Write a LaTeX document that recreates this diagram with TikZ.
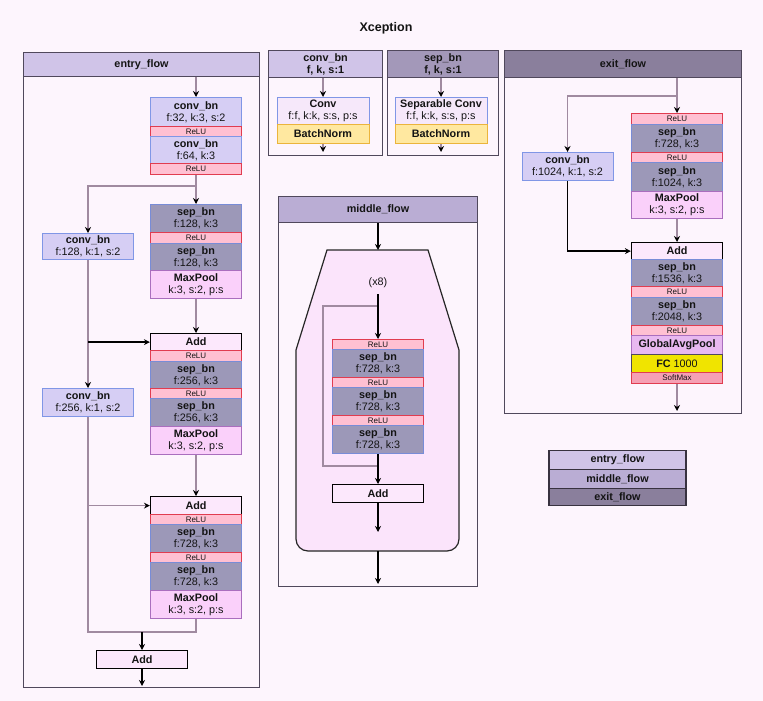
\documentclass[tikz,border=0pt]{standalone}
\usepackage{fontspec}
\setmainfont{Liberation Sans}
\usepackage{xcolor}
\usepackage{tikz}
\usetikzlibrary{arrows.meta}
\definecolor{bgc}{RGB}{253,245,253}
\definecolor{entryc}{RGB}{208,196,232}
\definecolor{middlec}{RGB}{186,173,212}
\definecolor{exitc}{RGB}{138,127,156}
\definecolor{sephdr}{RGB}{163,152,185}
\definecolor{framec}{RGB}{80,72,92}
\definecolor{convfill}{RGB}{214,206,244}
\definecolor{convdraw}{RGB}{128,150,230}
\definecolor{sepfill}{RGB}{156,152,184}
\definecolor{sepdraw}{RGB}{120,140,215}
\definecolor{relufill}{RGB}{255,192,210}
\definecolor{reludraw}{RGB}{225,60,80}
\definecolor{poolfill}{RGB}{250,208,250}
\definecolor{pooldraw}{RGB}{170,110,190}
\definecolor{addfill}{RGB}{252,232,252}
\definecolor{gapfill}{RGB}{232,184,240}
\definecolor{fcfill}{RGB}{240,228,0}
\definecolor{softfill}{RGB}{245,160,180}
\definecolor{cvfill}{RGB}{246,232,250}
\definecolor{bnfill}{RGB}{255,232,160}
\definecolor{bndraw}{RGB}{235,180,60}
\definecolor{octofill}{RGB}{251,228,251}
\definecolor{linec}{RGB}{160,138,160}
\colorlet{txtc}{black!92}
\newcommand\fs{\fontsize{10.8}{12}\selectfont}
\newcommand\lbl[2]{\textbf{#1}\\#2}
\tikzstyle{arrhead}=[>/.tip={Stealth[length=6pt,width=6pt,color=black]}]
\tikzstyle{ln}=[line width=1.3pt,draw=linec,arrhead,->]
\tikzstyle{lnk}=[ln,draw=black]
\tikzstyle{loopln}=[line width=1.3pt,draw=linec]
\tikzstyle{flowbox}=[draw=framec,line width=1pt,fill=bgc,anchor=north west,inner sep=0pt]
\tikzstyle{hdr}=[draw=framec,line width=1pt,anchor=north west,inner sep=1pt,align=center,font=\fs\bfseries,text=txtc]
\tikzstyle{blk}=[draw,line width=1pt,anchor=north,minimum width=91pt,inner sep=1pt,align=center,font=\fs,text=txtc]
\tikzstyle{convbn}=[blk,fill=convfill,draw=convdraw]
\tikzstyle{sepbn}=[blk,fill=sepfill,draw=sepdraw]
\tikzstyle{relu}=[blk,fill=relufill,draw=reludraw,minimum height=10pt,font=\fontsize{8}{8}\selectfont]
\tikzstyle{poolbox}=[blk,fill=poolfill,draw=pooldraw]
\tikzstyle{addbox}=[blk,fill=addfill,draw=black,line width=1.2pt,font=\fs\bfseries]
\tikzstyle{gapbox}=[blk,fill=gapfill,draw=pooldraw]
\tikzstyle{fcbox}=[blk,fill=fcfill,draw=framec]
\tikzstyle{softbox}=[relu,fill=softfill]
\tikzstyle{cvbox}=[blk,fill=cvfill,draw=convdraw,minimum width=92pt]
\tikzstyle{bnbox}=[blk,fill=bnfill,draw=bndraw,minimum width=92pt]
\tikzstyle{lgd}=[draw=framec!70!black,line width=1.2pt,anchor=north,minimum width=137pt,inner sep=1pt,font=\fs\bfseries,text=txtc]
\tikzstyle{octo}=[draw=black!85,line width=1.2pt,fill=octofill]

\begin{document}
\begin{tikzpicture}[x=1pt,y=-1pt]
	\fill[bgc] (0,0) rectangle (763,701);
	\useasboundingbox (0,0) rectangle (763,701);
	\node[font=\fontsize{12.5}{14}\selectfont\bfseries,text=txtc] (title) at (386,28) {Xception};

	% entry flow
	\node[flowbox,minimum width=236pt,minimum height=635pt] (ef) at (23,52) {};
	\node[hdr,fill=entryc,minimum width=236pt,minimum height=24pt] (eh) at (23,52) {entry\_flow};
	\node[convbn,minimum height=29pt] (e1) at (196,97) {\lbl{conv\_bn}{f:32, k:3, s:2}};
	\node[relu] (r1) at (196,126) {ReLU};
	\node[convbn,minimum height=27pt] (e2) at (196,136) {\lbl{conv\_bn}{f:64, k:3}};
	\node[relu,minimum height=11pt] (r2) at (196,163) {ReLU};
	\node[sepbn,minimum height=28pt] (e3) at (196,204) {\lbl{sep\_bn}{f:128, k:3}};
	\node[relu,minimum height=11pt] (r3) at (196,232) {ReLU};
	\node[sepbn,minimum height=27pt] (e4) at (196,243) {\lbl{sep\_bn}{f:128, k:3}};
	\node[poolbox,minimum height=28pt] (p1) at (196,270) {\lbl{MaxPool}{k:3, s:2, p:s}};
	\node[addbox,minimum height=17pt] (a1) at (196,333) {Add};
	\node[relu,minimum height=11pt] (r4) at (196,350) {ReLU};
	\node[sepbn,minimum height=27pt] (e5) at (196,361) {\lbl{sep\_bn}{f:256, k:3}};
	\node[relu] (r5) at (196,388) {ReLU};
	\node[sepbn,minimum height=28pt] (e6) at (196,398) {\lbl{sep\_bn}{f:256, k:3}};
	\node[poolbox,minimum height=28pt] (p2) at (196,426) {\lbl{MaxPool}{k:3, s:2, p:s}};
	\node[addbox,minimum height=18pt] (a2) at (196,496) {Add};
	\node[relu] (r6) at (196,514) {ReLU};
	\node[sepbn,minimum height=28pt] (e7) at (196,524) {\lbl{sep\_bn}{f:728, k:3}};
	\node[relu] (r7) at (196,552) {ReLU};
	\node[sepbn,minimum height=28pt] (e8) at (196,562) {\lbl{sep\_bn}{f:728, k:3}};
	\node[poolbox,minimum height=28pt] (p3) at (196,590) {\lbl{MaxPool}{k:3, s:2, p:s}};
	\node[addbox,minimum height=18pt] (a3) at (142,650) {Add};
	\node[convbn,minimum height=26pt] (c1) at (88,233) {\lbl{conv\_bn}{f:128, k:1, s:2}};
	\node[convbn,minimum height=28pt] (c2) at (88,388) {\lbl{conv\_bn}{f:256, k:1, s:2}};
	\coordinate (j1) at (196,186);
	\coordinate (j2) at (142,632);
	\coordinate (eo) at (142,686);
	\draw[ln] (e1.north |- eh.south) -- (e1);
	\draw[ln] (r2) -- (e3);
	\draw[ln] (j1) -| (c1);
	\draw[ln] (p1) -- (a1);
	\draw[ln] (c1) -- (c2);
	\draw[lnk] (c1.south |- a1) -- (a1);
	\draw[ln] (p2) -- (a2);
	\draw[ln] (c2.south |- a2) -- (a2);
	\draw[loopln] (c2) |- (j2) -| (p3);
	\draw[lnk] (j2) -- (a3);
	\draw[lnk] (a3) -- (eo);

	% conv_bn / sep_bn
	\node[flowbox,minimum width=114pt,minimum height=105pt] (cd) at (268,50) {};
	\node[hdr,fill=entryc,minimum width=114pt,minimum height=27pt] (ch) at (268,50) {conv\_bn\\f, k, s:1};
	\node[cvbox,minimum height=27pt] (cv) at (323,97) {\lbl{Conv}{f:f, k:k, s:s, p:s}};
	\node[bnbox,minimum height=19pt] (bn) at (323,124) {\textbf{BatchNorm}};
	\coordinate (co) at (323,152);
	\draw[ln] (cv |- ch.south) -- (cv);
	\draw[ln] (bn) -- (co);
	\node[flowbox,minimum width=111pt,minimum height=105pt] (sd) at (387,50) {};
	\node[hdr,fill=sephdr,minimum width=111pt,minimum height=27pt] (sh) at (387,50) {sep\_bn\\f, k, s:1};
	\node[cvbox,minimum height=27pt] (sv) at (441,97) {\lbl{Separable Conv}{f:f, k:k, s:s, p:s}};
	\node[bnbox,minimum height=19pt] (sn) at (441,124) {\textbf{BatchNorm}};
	\coordinate (so) at (441,152);
	\draw[ln] (sv |- sh.south) -- (sv);
	\draw[ln] (sn) -- (so);

	% middle flow
	\node[flowbox,minimum width=199pt,minimum height=390pt] (mf) at (278,196) {};
	\node[hdr,fill=middlec,minimum width=199pt,minimum height=26pt] (mh) at (278,196) {middle\_flow};
	\draw[octo] (327,250) -- (428,250) -- (459,350) -- (459,539) arc[start angle=0,end angle=90,radius=12]
		-- (308,551) arc[start angle=90,end angle=180,radius=12] -- (296,350) -- cycle;
	\coordinate (mt) at (378,250);
	\coordinate (mq) at (378,532);
	\coordinate (mb) at (378,551);
	\coordinate (mo) at (378,584);
	\node[font=\fs,text=txtc,inner sep=6pt] (rep) at (378,283) {(x8)};
	\node[relu] (m1) at (378,339) {ReLU};
	\node[sepbn,minimum height=28pt] (m2) at (378,349) {\lbl{sep\_bn}{f:728, k:3}};
	\node[relu] (m3) at (378,377) {ReLU};
	\node[sepbn,minimum height=28pt] (m4) at (378,387) {\lbl{sep\_bn}{f:728, k:3}};
	\node[relu] (m5) at (378,415) {ReLU};
	\node[sepbn,minimum height=28pt] (m6) at (378,425) {\lbl{sep\_bn}{f:728, k:3}};
	\node[addbox,minimum height=18pt] (ma) at (378,484) {Add};
	\coordinate (l1) at (378,306);
	\coordinate (l2) at (378,466);
	\draw[lnk] (mh.south -| mt) -- (mt);
	\draw[loopln] (l1) -- ++(-55,0) |- (l2);
	\draw[lnk] (rep) -- (m1);
	\draw[lnk] (m6) -- (ma);
	\draw[lnk] (ma) -- (mq);
	\draw[lnk] (mb) -- (mo);

	% exit flow
	\node[flowbox,minimum width=237pt,minimum height=363pt] (xf) at (504,50) {};
	\node[hdr,fill=exitc,minimum width=237pt,minimum height=27pt] (xh) at (504,50) {exit\_flow};
	\node[relu,minimum height=11pt] (x1) at (677,113) {ReLU};
	\node[sepbn,minimum height=28pt] (x2) at (677,124) {\lbl{sep\_bn}{f:728, k:3}};
	\node[relu] (x3) at (677,152) {ReLU};
	\node[sepbn,minimum height=29pt] (x4) at (677,162) {\lbl{sep\_bn}{f:1024, k:3}};
	\node[poolbox,minimum height=27pt] (x5) at (677,191) {\lbl{MaxPool}{k:3, s:2, p:s}};
	\node[addbox,minimum height=17pt] (xa) at (677,242) {Add};
	\node[sepbn,minimum height=27pt] (x6) at (677,259) {\lbl{sep\_bn}{f:1536, k:3}};
	\node[relu,minimum height=11pt] (x7) at (677,286) {ReLU};
	\node[sepbn,minimum height=28pt] (x8) at (677,297) {\lbl{sep\_bn}{f:2048, k:3}};
	\node[relu] (x9) at (677,325) {ReLU};
	\node[gapbox,minimum height=19pt] (x10) at (677,335) {\textbf{GlobalAvgPool}};
	\node[fcbox,minimum height=18pt] (x11) at (677,354) {\textbf{FC} 1000};
	\node[softbox,minimum height=11pt] (x12) at (677,372) {SoftMax};
	\node[convbn,minimum height=28pt] (xc) at (567.5,152) {\lbl{conv\_bn}{f:1024, k:1, s:2}};
	\coordinate (j3) at (677,96);
	\coordinate (xo) at (677,411);
	\draw[ln] (x1 |- xh.south) -- (x1);
	\draw[ln] (j3) -| (xc);
	\draw[ln] (x5) -- (xa);
	\draw[lnk] (xc) |- (xa);
	\draw[ln] (x12) -- (xo);

	% legend
	\node[lgd,fill=entryc,minimum height=19pt] (g1) at (617.5,450) {entry\_flow};
	\node[lgd,fill=middlec,minimum height=19pt] (g2) at (617.5,469) {middle\_flow};
	\node[lgd,fill=exitc,minimum height=17pt] (g3) at (617.5,488) {exit\_flow};
\end{tikzpicture}
\end{document}
